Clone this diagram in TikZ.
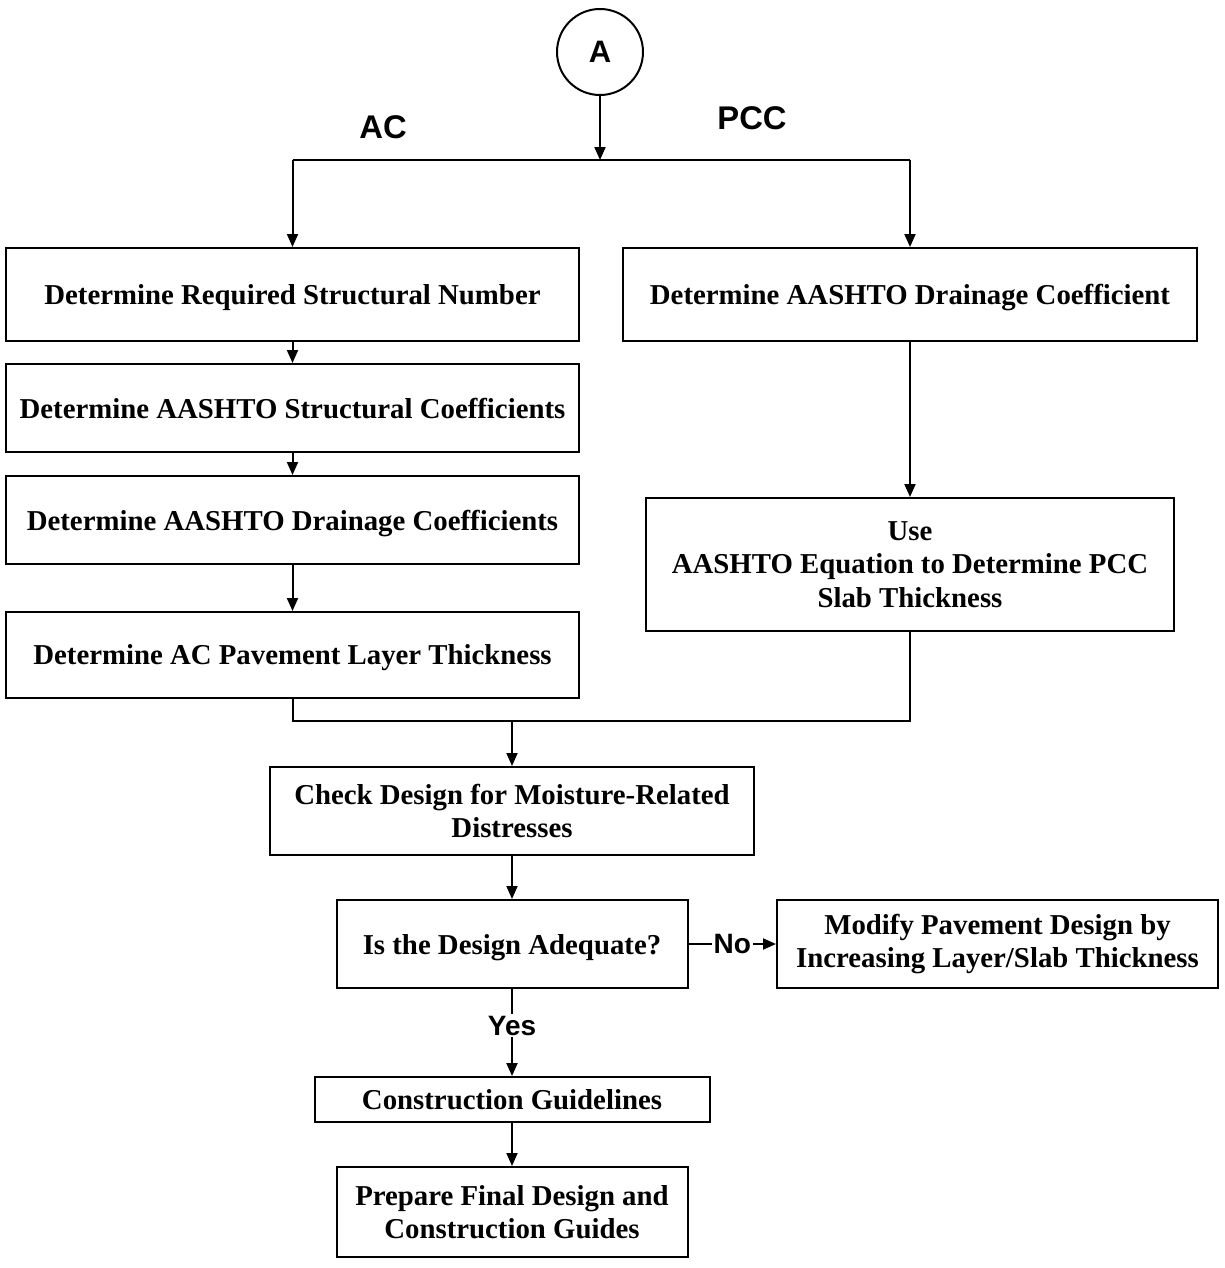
\documentclass[tikz,border=0pt]{standalone}
\usepackage{fontspec}
\setmainfont{Liberation Serif}
\setsansfont{Liberation Sans}
\usetikzlibrary{calc,positioning,arrows.meta}

\begin{document}
\begin{tikzpicture}[x=0.5pt, y=-0.5pt,
                line width=1pt,
                >={Triangle[length=6.5pt,width=5.5pt]},
                proc_box/.style={rectangle, draw, line width=1pt, align=center, inner sep=0pt, font=\bfseries\fontsize{14.4}{16.8}\selectfont},
                one_line/.style={proc_box, text depth=0pt},
                tag/.style={font=\sffamily\bfseries\fontsize{14}{16}\selectfont},
                joint/.style={circle, draw, line width=1pt, minimum size=43pt, inner sep=0pt, font=\sffamily\bfseries\fontsize{15.5}{17}\selectfont}
            ]
                \useasboundingbox (0,0) rectangle (1225,1268);

                \node[joint] (A) at (600, 52) {A};
                \coordinate (split) at (600, 160);
                \coordinate (merge) at (512, 721);

                \node[font=\sffamily\bfseries\fontsize{16.4}{18}\selectfont] (ac) at (383, 127) {AC};
                \node[font=\sffamily\bfseries\fontsize{16.4}{18}\selectfont] (pcc) at (752, 118) {PCC};

                % AC branch
                \node[one_line, minimum width=286.5pt, minimum height=46.5pt] (sn) at (292.5, 294.5) {Determine Required Structural Number};
                \node[one_line, minimum width=286.5pt, minimum height=44pt] (sc) at (292.5, 408) {Determine AASHTO Structural Coefficients};
                \node[one_line, minimum width=286.5pt, minimum height=44pt] (dc) at (292.5, 520) {Determine AASHTO Drainage Coefficients};
                \node[one_line, minimum width=286.5pt, minimum height=43pt] (lt) at (292.5, 655) {Determine AC Pavement Layer Thickness};

                % PCC branch
                \node[one_line, minimum width=287pt, minimum height=46.5pt] (pdc) at (910, 294.5) {Determine AASHTO Drainage Coefficient};
                \node[proc_box, minimum width=264pt, minimum height=66.5pt] (slab) at (910, 564.5) {Use\\AASHTO Equation to Determine PCC\\Slab Thickness};

                % common part
                \node[proc_box, minimum width=242pt, minimum height=44pt] (chk) at (512, 811) {Check Design for Moisture-Related\\Distresses};
                \node[one_line, minimum width=175.5pt, minimum height=44pt] (adq) at (512, 944) {Is the Design Adequate?};
                \node[proc_box, minimum width=220.5pt, minimum height=44pt] (mod) at (997.5, 944) {Modify Pavement Design by\\Increasing Layer/Slab Thickness};
                \node[one_line, minimum width=197.5pt, minimum height=22.5pt] (guide) at (512, 1099.5) {Construction Guidelines};
                \node[proc_box, minimum width=175.5pt, minimum height=45pt] (final) at (512, 1212) {Prepare Final Design and\\Construction Guides};

                \draw[->] (A) -- (split);
                \draw (sn.north |- split) -- (pdc.north |- split);
                \draw[->] (sn.north |- split) -- (sn.north);
                \draw[->] (pdc.north |- split) -- (pdc.north);

                \draw[->] (sn) -- (sc);
                \draw[->] (sc) -- (dc);
                \draw[->] (dc) -- (lt);
                \draw[->] (pdc) -- (slab);

                \draw (lt.south) -- (lt.south |- merge) -- (slab.south |- merge) -- (slab.south);
                \draw[->] (chk.north |- merge) -- (chk.north);

                \draw[->] (chk) -- (adq);
                \draw[->] (adq) -- node[tag, fill=white, inner sep=1pt] (no) {No} (mod);
                \draw[->] (adq) -- node[tag, fill=white, inner sep=1pt, pos=0.42] (yes) {Yes} (guide);
                \draw[->] (guide) -- (final);
            \end{tikzpicture}
\end{document}
